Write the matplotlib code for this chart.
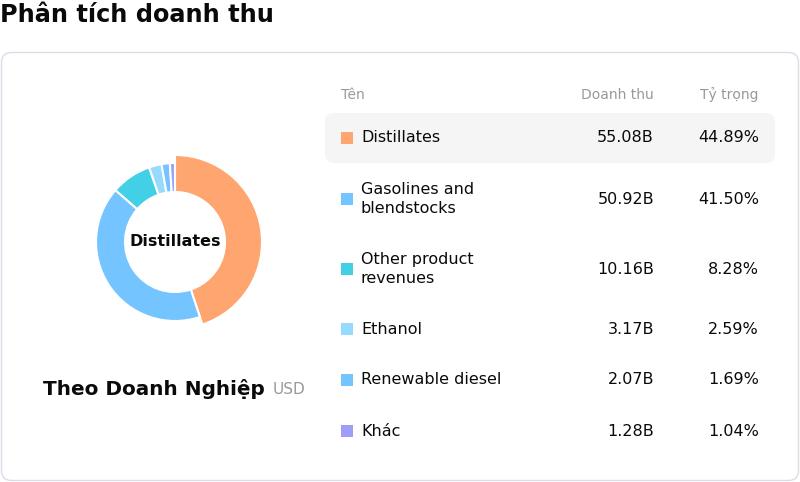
import matplotlib
matplotlib.use("Agg")
import matplotlib.pyplot as plt
from matplotlib.patches import FancyBboxPatch, Rectangle

plt.rcParams['font.family'] = ['DejaVu Sans']

title = "Phân tích doanh thu"
subtitle = "Theo Doanh Nghiệp"
unit = "USD"
headers = ["Tên", "Doanh thu", "Tỷ trọng"]
categories = ["Distillates", "Gasolines and\nblendstocks", "Other product\nrevenues",
              "Ethanol", "Renewable diesel", "Khác"]
revenues = [55.08, 50.92, 10.16, 3.17, 2.07, 1.28]
shares = [44.89, 41.50, 8.28, 2.59, 1.69, 1.04]
colors = ["#FFA570", "#74C4FF", "#42D0E6", "#96DBFF", "#74C4FF", "#A09DF8"]
highlight = "Distillates"

W, H = 800, 482
fig = plt.figure(figsize=(W / 100, H / 100), dpi=100)
bg = fig.add_axes([0, 0, 1, 1])
bg.set_xlim(0, W)
bg.set_ylim(H, 0)
bg.axis("off")

# title
bg.text(0, 15, title, fontsize=17.3, fontweight="bold", va="center", ha="left", color="#0a0a0a")

# card
card = FancyBboxPatch((1.5, 52.5), 797, 428, boxstyle="round,pad=0,rounding_size=10",
                      facecolor="white", edgecolor="#DDDDE8", linewidth=1)
bg.add_patch(card)

# donut
cx, cy = 175, 242
size = 200
dax = fig.add_axes([(cx - size / 2) / W, (H - cy - size / 2) / H, size / W, size / H])
wedges, _ = dax.pie(revenues, colors=colors, startangle=90, counterclock=False,
                    radius=79, wedgeprops=dict(width=29, edgecolor="white", linewidth=1.5))
hi = [c.replace("\n", " ") for c in categories].index(highlight)
wedges[hi].set_radius(87)
wedges[hi].set_width(37)
dax.set_xlim(-100, 100)
dax.set_ylim(-100, 100)
dax.set_aspect("equal")
dax.axis("off")
dax.text(0, 0, highlight, ha="center", va="center", fontsize=11.5, fontweight="bold", color="#0a0a0a")

# subtitle
bg.text(43, 389, subtitle, fontsize=14.4, fontweight="bold", va="center", ha="left", color="#0a0a0a")
bg.text(273, 389, unit, fontsize=11, va="center", ha="left", color="#999999")

# table
hx = [341, 654, 759]
bg.text(hx[0], 95, headers[0], fontsize=10, color="#999999", va="center", ha="left")
bg.text(hx[1], 95, headers[1], fontsize=10, color="#999999", va="center", ha="right")
bg.text(hx[2], 95, headers[2], fontsize=10, color="#999999", va="center", ha="right")

row_y = [138, 199, 269, 329, 380, 431]
for i, (cat, rev, sh, col) in enumerate(zip(categories, revenues, shares, colors)):
    y = row_y[i]
    if i == hi:
        bg.add_patch(FancyBboxPatch((325, 113), 450, 50, boxstyle="round,pad=0,rounding_size=9",
                                    facecolor="#F5F5F5", edgecolor="none"))
    bg.add_patch(Rectangle((341, y - 6), 12, 12, facecolor=col, edgecolor="none"))
    bg.text(361, y, cat, fontsize=11.5, color="#0a0a0a", va="center", ha="left", linespacing=1.34)
    bg.text(hx[1], y, f"{rev:.2f}B", fontsize=11.5, color="#0a0a0a", va="center", ha="right")
    bg.text(hx[2], y, f"{sh:.2f}%", fontsize=11.5, color="#0a0a0a", va="center", ha="right")

fig.savefig("out.png", dpi=100)
